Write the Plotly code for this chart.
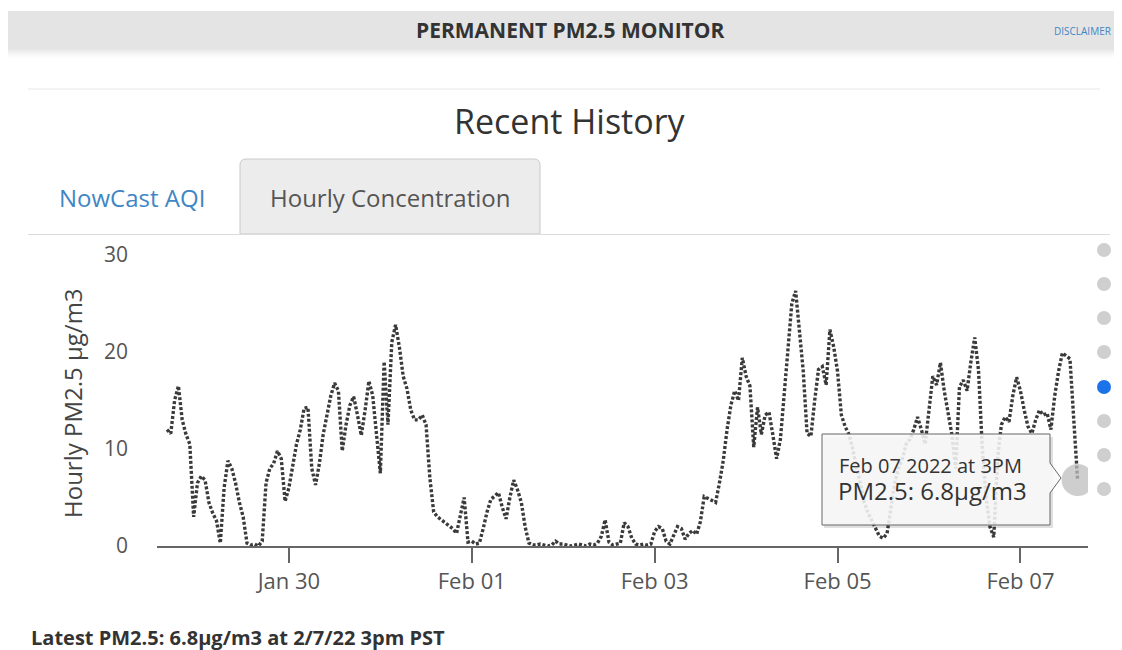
import pandas as pd
import plotly.graph_objects as go

# ---------------- data ----------------
start_time = "2022-01-28 16:00"
pm25 = [
    12.0, 11.6, 15.0, 16.5, 13.0, 11.5, 10.5, 3.0, 6.5, 7.2,
    6.8, 4.5, 3.4, 2.6, 0.3, 6.0, 8.8, 8.0, 6.5, 4.5,
    3.0, 0.3, 0.1, 0.2, 0.0, 0.5, 6.5, 8.0, 8.5, 9.8,
    9.0, 4.6, 6.0, 8.5, 10.5, 12.0, 14.2, 14.3, 8.0, 6.3,
    8.5, 11.5, 13.5, 15.5, 16.8, 16.0, 9.8, 12.5, 14.5, 15.4,
    13.5, 11.4, 14.0, 17.0, 15.5, 11.0, 7.5, 19.0, 12.5, 21.0,
    22.8, 20.5, 17.5, 16.2, 14.0, 13.0, 13.0, 13.5, 12.5, 7.0,
    3.5, 3.0, 2.7, 2.3, 2.0, 1.8, 1.3, 3.0, 5.0, 0.4,
    0.5, 0.2, 0.3, 1.8, 3.5, 4.8, 5.2, 5.5, 4.0, 2.8,
    5.0, 6.8, 5.8, 4.5, 2.0, 0.3, 0.1, 0.1, 0.2, 0.1,
    0.0, 0.1, 0.5, 0.2, 0.2, 0.1, 0.0, 0.1, 0.2, 0.1,
    0.0, 0.2, 0.1, 0.3, 1.0, 2.7, 0.4, 0.1, 0.2, 0.3,
    2.4, 2.0, 0.8, 0.2, 0.1, 0.2, 0.1, 0.2, 1.5, 2.0,
    1.8, 0.5, 0.2, 1.2, 2.0, 1.8, 0.7, 1.3, 1.6, 1.2,
    2.5, 5.1, 4.9, 4.7, 4.5, 6.5, 8.8, 12.0, 14.5, 16.0,
    15.0, 19.4, 17.5, 16.5, 10.2, 14.3, 11.5, 13.5, 13.8, 11.5,
    9.0, 11.0, 15.5, 21.0, 25.0, 26.3, 22.3, 18.0, 11.6, 11.3,
    15.0, 18.2, 18.5, 16.6, 22.3, 20.5, 18.0, 13.5, 12.3, 11.5,
    10.0, 8.0, 6.5, 4.5, 3.4, 2.5, 1.8, 1.0, 0.8, 1.3,
    4.0, 6.5, 8.0, 9.0, 10.5, 11.0, 12.0, 13.3, 12.0, 10.5,
    14.0, 17.5, 16.6, 18.9, 16.0, 13.5, 11.5, 8.0, 16.4, 17.1,
    16.0, 19.0, 21.5, 18.1, 10.0, 5.0, 2.0, 0.9, 9.0, 12.5,
    13.3, 12.8, 15.5, 17.4, 16.0, 14.0, 12.3, 11.6, 13.0, 14.0,
    13.5, 13.7, 12.0, 15.5, 18.0, 19.9, 19.6, 19.3, 13.0, 6.8,
]
x_tick_dates = ["2022-01-30", "2022-02-01", "2022-02-03", "2022-02-05", "2022-02-07"]
x_tick_labels = ["Jan 30", "Feb 01", "Feb 03", "Feb 05", "Feb 07"]
y_ticks = [0, 10, 20, 30]
x_range = ["2022-01-28 13:23", "2022-02-07 17:44"]

times = pd.date_range(start_time, periods=len(pm25), freq="h")

# ---------------- layout helpers (reference pixel -> paper) ----------------
# the page body has an 8px margin, so the figure is smaller and offset by 8px
OFF = 8
W, H = 1122 - OFF, 650 - OFF
L, R, T, B = 157, 1088, 255, 546   # plot area in reference (window) pixels


def px(x):
    return (x - L) / (R - L)


def py(y):
    return (B - y) / (B - T)


FONT = "Open Sans"
shapes = []
annotations = []


def text(t, x, y, size, color, xanchor="center", angle=0):
    annotations.append(dict(text=t, xref="paper", yref="paper", x=px(x), y=py(y),
                            xanchor=xanchor, yanchor="middle", textangle=angle,
                            showarrow=False,
                            font=dict(family=FONT, size=size, color=color)))


# header bar
for i, c in enumerate(["#ededed", "#f3f3f3", "#f8f8f8", "#fcfcfc"]):
    shapes.append(dict(type="rect", xref="paper", yref="paper", layer="below",
                       x0=px(0), x1=px(1122), y0=py(50 + 2 * (i + 1)), y1=py(50 + 2 * i),
                       fillcolor=c, line=dict(width=0)))
shapes.append(dict(type="rect", xref="paper", yref="paper", layer="below",
                   x0=px(0), x1=px(1122), y0=py(50), y1=py(11),
                   fillcolor="#e4e4e4", line=dict(width=0)))
shapes.append(dict(type="line", xref="paper", yref="paper", layer="below",
                   x0=px(28), x1=px(1100), y0=py(89), y1=py(89),
                   line=dict(color="#f3f3f3", width=2)))
text("<b>PERMANENT PM2.5 MONITOR</b>", 570, 30, 21, "#333333")
text("DISCLAIMER", 1113, 31, 10, "#3f86c4", xanchor="right")

# title
text("Recent History", 570, 121, 34, "#333333")

# tabs
r = 6
x0t, x1t, y0t, y1t = px(240), px(540), py(234), py(159)
rx = r / (R - L)
ry = r / (B - T)
path = (f"M {x0t},{y0t} L {x0t},{y1t - ry} Q {x0t},{y1t} {x0t + rx},{y1t} "
        f"L {x1t - rx},{y1t} Q {x1t},{y1t} {x1t},{y1t - ry} L {x1t},{y0t} Z")
shapes.append(dict(type="path", xref="paper", yref="paper", layer="below", path=path,
                   fillcolor="#ececec", line=dict(color="#c9c9c9", width=1)))
shapes.append(dict(type="line", xref="paper", yref="paper", layer="below",
                   x0=px(28), x1=px(1110), y0=py(234.5), y1=py(234.5),
                   line=dict(color="#dcdcdc", width=1)))
text("NowCast AQI", 132, 197, 24, "#3f86c4")
text("Hourly Concentration", 390, 197, 24, "#555555")

# y axis title
text("Hourly PM2.5 μg/m3", 72, 403, 24, "#444444", angle=-90)

# right-side dots
dot_y = [250, 284, 318, 352, 387, 421, 455, 489]
for i, yy in enumerate(dot_y):
    col = "#1a73e8" if i == 4 else "#cfcfcf"
    shapes.append(dict(type="circle", xref="paper", yref="paper",
                       x0=px(1104 - 7), x1=px(1104 + 7), y0=py(yy + 7), y1=py(yy - 7),
                       fillcolor=col, line=dict(width=0)))

# footer
text("<b>Latest PM2.5: 6.8μg/m3 at 2/7/22 3pm PST</b>", 29, 637, 20, "#333333",
     xanchor="left")

# ---------------- figure ----------------
fig = go.Figure()
fig.add_trace(go.Scatter(
    x=times, y=pm25, mode="lines",
    line=dict(color="#3a3a3a", width=3.4, dash="3px,2px"),
    hoverinfo="skip", showlegend=False,
))
# hover halo on the latest point
fig.add_trace(go.Scatter(
    x=[times[-1]], y=[pm25[-1]], mode="markers",
    marker=dict(size=32, color="rgba(190,190,190,0.75)"),
    hoverinfo="skip", showlegend=False,
))

# tooltip (drawn above the traces)
tip_shapes = []
tip_shapes.append(dict(type="rect", xref="paper", yref="paper", layer="above",
                       x0=px(824), x1=px(1053), y0=py(528), y1=py(437),
                       fillcolor="rgba(0,0,0,0.12)", line=dict(width=0)))
tip_path = (f"M {px(822)},{py(434)} L {px(1050)},{py(434)} L {px(1050)},{py(463)} "
            f"L {px(1061)},{py(478)} L {px(1050)},{py(493)} L {px(1050)},{py(525)} "
            f"L {px(822)},{py(525)} Z")
tip_shapes.append(dict(type="path", xref="paper", yref="paper", layer="above", path=tip_path,
                       fillcolor="rgba(248,248,248,0.88)", line=dict(color="#666666", width=1)))
text("Feb 07 2022 at 3PM", 837, 465, 20, "#333333", xanchor="left")
text("PM2.5: 6.8μg/m3", 836, 490, 24, "#333333", xanchor="left")

fig.update_layout(
    width=W, height=H,
    margin=dict(l=L - OFF, r=W - (R - OFF), t=T - OFF, b=H - (B - OFF)),
    paper_bgcolor="white", plot_bgcolor="white",
    shapes=shapes + tip_shapes,
    annotations=annotations,
    showlegend=False,
    font=dict(family=FONT),
    xaxis=dict(
        type="date", range=x_range,
        tickvals=x_tick_dates, ticktext=x_tick_labels,
        showgrid=False, zeroline=False,
        showline=True, linecolor="#666666", linewidth=2,
        ticks="outside", ticklen=15, tickwidth=2, tickcolor="#666666",
        tickfont=dict(family=FONT, size=22, color="#555555"),
        fixedrange=True,
    ),
    yaxis=dict(
        range=[0, 30], tickvals=y_ticks,
        showgrid=False, zeroline=False, showline=False,
        ticks="", ticklabelstandoff=28,
        tickfont=dict(family=FONT, size=21, color="#555555"),
        fixedrange=True,
    ),
)

fig.write_html("out.html", config={"displayModeBar": False})
